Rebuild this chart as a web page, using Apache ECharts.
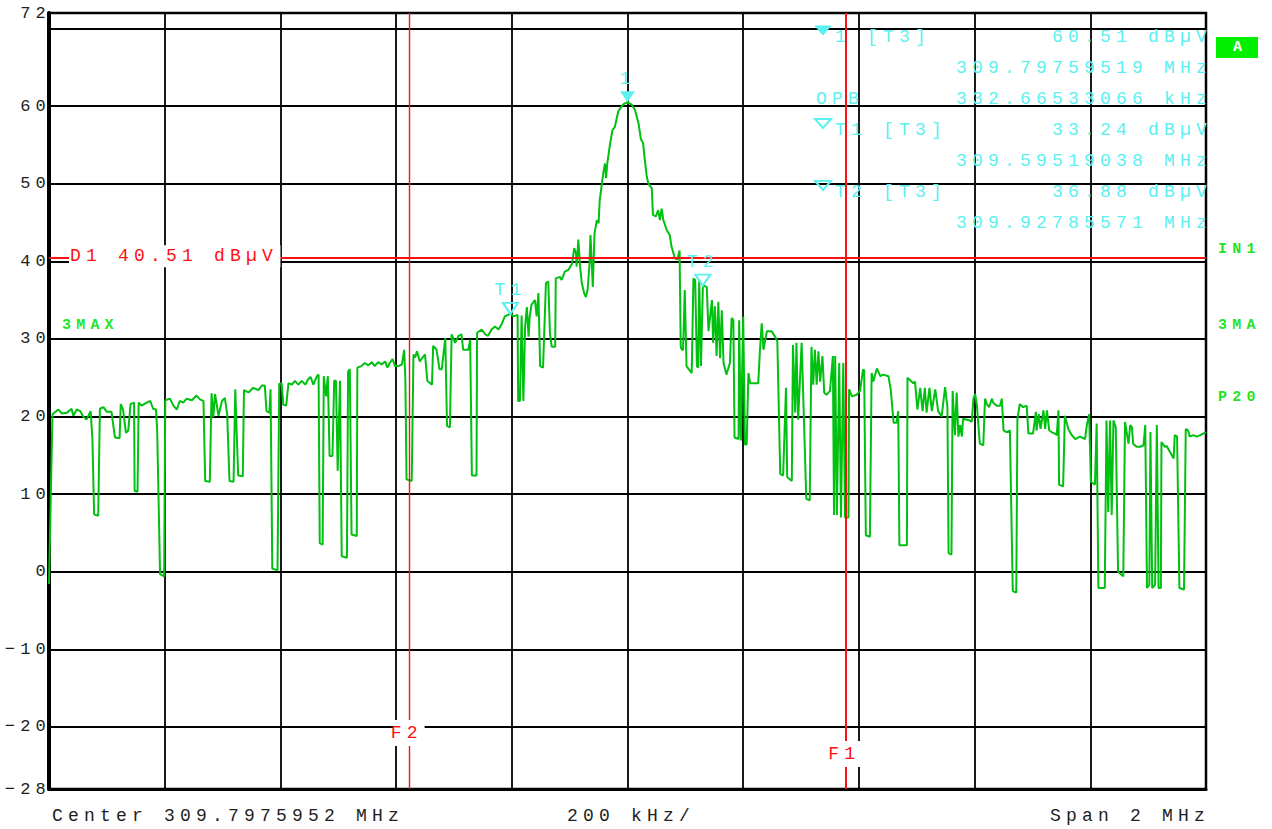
<!DOCTYPE html>
<html>
<head>
<meta charset="utf-8">
<title>Spectrum 309.7975952 MHz</title>
<script src="https://cdn.jsdelivr.net/npm/echarts@6/dist/echarts.min.js"></script>
<style>
  html, body { margin: 0; padding: 0; background: #ffffff; }
  #chart { width: 1272px; height: 829px; }
  /* instrument-style wide character pitch */
  #chart svg text { letter-spacing: 5.2px; }
</style>
</head>
<body>
<div id="chart"></div>
<script>
// ---- sweep settings ----
const centerMHz = 309.7975952;
const spanMHz = 2;
const divKHz = 200;

// ---- level axis ----
const yTickLabels = [72, 60, 50, 40, 30, 20, 10, 0, -10, -20, -28];
const gridLevels = [70, 60, 50, 40, 30, 20, 10, 0, -10, -20];

// ---- trace 3 (max hold): frequency offset from center (kHz) and level (dBµV) ----
const offsetKHz = [
  -1000,-994,-984,-978,-969,-961,-958,-952,-946,-941,-935,-928,-925,-922,-915,
  -912,-906,-900,-892,-886,-878,-876,-872,-867,-863,-859,-853,-852,-847,-845,
  -840,-831,-825,-820,-815,-813,-808,-801,-799,-791,-785,-779,-774,-768,-762,
  -753,-745,-739,-733,-730,-722,-719,-716,-713,-707,-701,-696,-692,-688,-681,
  -678,-676,-673,-665,-663,-655,-647,-638,-632,-627,-624,-619,-617,-614,-605,
  -602,-598,-595,-590,-586,-580,-575,-569,-563,-557,-552,-548,-543,-537,-534,
  -532,-527,-525,-521,-518,-515,-510,-507,-504,-501,-497,-494,-485,-483,-480,
  -477,-468,-467,-460,-454,-448,-442,-437,-431,-425,-419,-415,-411,-406,-402,
  -396,-390,-386,-384,-382,-373,-370,-367,-364,-359,-350,-346,-338,-336,-330,
  -325,-321,-315,-312,-307,-304,-298,-292,-287,-284,-275,-272,-269,-261,-260,
  -252,-246,-241,-235,-229,-223,-217,-212,-202.4,-197,-190,-189,-186,-183,-180,
  -177,-174,-171,-169,-166,-160,-157,-154,-151,-146,-141,-137,-134,-131,-125,
  -124,-117,-114,-108,-102,-96,-92,-89,-88,-85,-82,-79,-75,-72,-69,
  -66,-64,-60,-57,-53,-50,-48,-45,-42,-39,-37,-35,-30,-26,-22,
  -16,-10,-6,0,7,13,19,23,27,30,33,36,42,44,49,
  53,56,59,62,68,73,76,82,86,90,92,94,96,99,102,
  111,114,117,120,122,124,127,128,130.3,137,140,146,148,151,154,
  157,160,163,166,171,177,180,183,185,192,193,196,200,203,206,
  209,212,226,229,232,235,241,249,255,259,264,269,274,276,284,
  286,290,292,295,301,305,309,315,318,321,324,327,330,333,337,
  340,344,350,355,357,359,362,366,369,373,376,382,383,388,396,
  402,407,409,412,419,422,425,431,437,442,451,455,460,465,468,
  470,483,484,494,497,501,506,510,514,517,522,526,532,537,543,
  549,553,555,560,562,566,569,572,575,578,580,592,595,598,601,
  604,609,615,618,621,625,630,632,638,644,647,650,655,661,666,
  672,674,678,684,690,693,701,706,707,711,714,719,722,725,729,
  733,739,742,745,746,753,756,762,768,774,782,791,794,798,801,
  808,811,814,825,828,831,834,837,840,844,848,857,860,866,869,
  872,874,880,886,892,895,898,902,904,907,912,915,918,922,923,
  929,932,938,944,946,950,954,962,965,969,972,978,984,990,995,
  1000
];
const levels = [
  -1.6,20.3,20.9,20.4,20.5,21.0,20.1,20.9,20.7,20.0,19.6,20.7,17.1,7.4,7.2,
  21.0,21.2,20.6,20.6,17.3,17.2,21.6,20.9,17.9,18.2,21.6,21.8,10.4,10.3,21.8,
  21.4,21.8,22.0,21.0,20.9,18.2,-0.3,-0.6,22.1,22.3,21.4,20.9,22.0,21.8,22.3,
  22.1,22.7,22.2,22.0,11.7,11.6,23.0,19.9,22.9,20.1,22.0,22.4,20.3,11.7,11.6,
  23.5,19.0,12.4,12.3,23.4,23.1,23.7,23.4,24.0,24.0,20.7,20.5,23.5,0.4,0.2,
  24.2,24.3,21.5,21.4,24.3,24.1,24.6,24.1,24.6,24.1,24.8,25.1,24.1,25.2,25.4,
  3.7,3.5,25.2,22.6,25.2,14.9,14.9,24.6,24.6,13.0,24.6,2.0,1.8,25.8,26.1,
  4.8,4.6,26.3,26.5,26.9,26.6,27.0,26.5,27.0,26.7,27.1,26.3,26.9,27.4,26.5,
  26.5,26.7,28.6,24.8,11.9,11.7,28.0,27.6,28.4,27.1,28.0,24.6,24.1,29.1,28.6,
  26.1,26.1,30.1,18.8,18.6,30.6,29.5,30.4,30.6,28.6,28.6,29.9,12.4,12.4,30.8,
  31.2,30.6,30.4,31.2,31.6,31.2,32.0,32.9,33.24,32.9,33.1,22.0,22.0,33.0,22.0,
  31.6,34.1,30.3,32.9,34.4,35.0,32.9,35.9,26.5,26.3,37.2,37.4,30.7,29.0,29.0,
  37.8,38.0,37.6,38.7,38.9,39.7,41.7,41.0,39.3,42.8,39.3,37.2,35.9,35.4,36.3,
  39.3,43.4,36.7,43.6,45.3,44.9,47.9,49.6,51.3,52.6,50.7,52.6,55.2,56.9,57.3,
  59.3,60.0,60.3,60.51,60.2,59.5,57.8,55.8,55.2,53.0,51.1,50.0,49.4,46.0,45.8,
  46.6,45.3,46.8,45.3,44.0,43.4,41.9,40.4,40.2,41.4,29.0,28.6,28.6,36.3,26.5,
  25.6,37.8,37.6,26.5,26.3,37.6,26.5,26.5,36.88,36.7,31.0,35.0,29.5,34.2,27.8,
  34.8,27.5,33.7,26.9,25.4,26.9,32.7,32.4,17.3,17.1,32.4,16.9,32.9,16.4,16.4,
  25.6,24.3,24.3,28.6,32.0,28.6,31.0,31.0,30.3,29.7,12.6,12.4,23.7,12.2,11.7,
  29.2,20.5,29.5,19.6,29.5,19.6,9.4,9.2,29.0,24.1,28.6,24.1,28.4,24.5,27.8,
  23.1,22.8,23.3,27.8,7.3,27.8,7.3,26.9,7.0,26.9,7.0,7.0,23.5,22.6,22.8,
  23.3,26.0,26.0,4.7,4.5,25.6,24.5,26.2,25.2,25.4,25.2,23.5,19.2,19.2,20.7,
  3.4,3.4,25.0,24.3,24.5,20.9,23.7,20.7,23.7,20.5,23.7,20.7,23.5,20.7,20.0,
  23.8,21.2,2.4,2.2,23.3,17.6,23.1,17.4,18.9,17.4,19.7,19.5,19.3,22.3,22.9,
  21.4,16.5,16.3,22.3,21.6,21.2,22.3,21.8,21.4,21.4,22.3,18.2,18.0,18.2,-2.5,
  -2.7,19.7,21.6,21.2,21.4,17.8,17.8,20.6,18.2,20.3,18.4,20.8,18.4,20.8,18.2,
  18.0,17.8,17.6,20.8,11.2,11.0,20.1,18.4,17.6,17.1,17.4,17.1,18.9,20.3,11.6,
  11.2,19.1,-2.1,-2.1,19.5,7.7,19.5,7.3,19.5,18.6,0.0,-0.6,19.3,16.5,18.9,
  18.6,16.5,16.1,16.1,16.3,18.9,-2.1,-1.7,18.0,-2.1,-1.7,18.9,-2.1,-2.1,16.7,
  16.1,16.2,15.4,14.6,17.6,17.4,-2.1,-2.3,18.4,18.2,17.4,17.6,17.4,17.6,17.8,
  18.0
];

// ---- markers ----
const markerNames = ['1', 'T1', 'T2'];
const markerFreqMHz = [309.79759519, 309.59519038, 309.92785571];
const markerLevels = [60.51, 33.24, 36.88];
const obwKHz = 332.66533066;

// ---- display line and frequency lines ----
const displayLineLevel = 40.51;
const freqLineNames = ['F1', 'F2'];
const freqLineKHz = [378, -378];

// ---- side annotations ----
const sideLabels = ['IN1', '3MA', 'P20'];

// ---- styling ----
const FONT_FAMILY = "'Liberation Mono', 'Courier New', monospace";
const CYAN = '#5cf0f0';
const RED = '#ff1010';
const TRACE_GREEN = '#00c010';
const TAG_GREEN = '#1fe61f';
const INK = '#1e1e1e';

const fmtLevel = v => String(v).replace('-', '\u2212');
const markerOffsetKHz = markerFreqMHz.map(f => (f - centerMHz) * 1000);

const chart = echarts.init(document.getElementById('chart'), null, {
  renderer: 'svg', width: 1272, height: 829
});

chart.setOption({
  animation: false,
  backgroundColor: '#ffffff',
  grid: {
    left: 49, right: 66, top: 13, bottom: 40,
    show: true, borderColor: '#000', borderWidth: 2.5
  },
  xAxis: {
    type: 'value',
    min: -spanMHz * 500, max: spanMHz * 500, interval: divKHz,
    axisLine: { onZero: false, lineStyle: { color: '#000', width: 3 } },
    axisTick: { show: false },
    axisLabel: { show: false },
    splitLine: { show: true, lineStyle: { color: '#000', width: 1.8 } }
  },
  yAxis: {
    type: 'value', min: -28, max: 72,
    axisLine: { show: true, onZero: false, lineStyle: { color: '#000', width: 4 } },
    axisTick: { show: false, customValues: gridLevels },
    axisLabel: {
      customValues: yTickLabels,
      margin: -2,
      color: INK,
      fontFamily: FONT_FAMILY,
      fontSize: 17,
      formatter: fmtLevel
    },
    splitLine: { show: true, lineStyle: { color: '#000', width: 1.8 } }
  },
  series: [{
    name: '3MAX',
    type: 'line',
    data: offsetKHz.map((f, i) => [f, levels[i]]),
    symbol: 'none',
    lineStyle: { color: TRACE_GREEN, width: 2 },
    z: 3,
    markLine: {
      silent: true,
      symbol: 'none',
      label: { show: false },
      data: [
        { yAxis: displayLineLevel, lineStyle: { color: RED, width: 2, type: 'solid' } },
        { xAxis: freqLineKHz[0], lineStyle: { color: RED, width: 2, type: 'solid' } },
        { xAxis: freqLineKHz[1], lineStyle: { color: RED, width: 1.4, type: 'solid' } }
      ]
    },
    markPoint: {
      silent: true,
      data: markerNames.map((n, i) => ({
        coord: [markerOffsetKHz[i], markerLevels[i]],
        symbol: 'triangle',
        symbolRotate: 180,
        symbolSize: [15, 11],
        symbolOffset: [0, -5.5],
        itemStyle: i === 0
          ? { color: CYAN }
          : { color: 'rgba(255,255,255,0)', borderColor: CYAN, borderWidth: 2 },
        label: {
          show: true, position: 'top', distance: 3, formatter: n,
          color: CYAN, fontFamily: FONT_FAMILY, fontSize: 18
        }
      }))
    }
  }]
});

// ---- text annotations around the grid ----
const font = (size, bold) => (bold ? 'bold ' : '') + size + 'px ' + FONT_FAMILY;
const txt = (text, x, y, fill, f, align, extra) => ({
  type: 'text', x: x, y: y, silent: true, z: 20,
  style: Object.assign({ text: text, fill: fill, font: f, align: align || 'left', verticalAlign: 'middle' }, extra || {})
});

const graphics = [];

// footer
graphics.push(txt('Center ' + centerMHz.toFixed(7) + ' MHz', 52, 816, INK, font(18)));
graphics.push(txt(divKHz + ' kHz/', 567, 816, INK, font(18)));
graphics.push(txt('Span ' + spanMHz + ' MHz', 1210, 816, INK, font(18), 'right'));

// marker table (top right)
const rowY = [37, 68, 99, 130, 161, 192, 223];
const tableRows = [];
markerNames.forEach((n, i) => {
  tableRows.push({ tag: n + ' [T3]', value: markerLevels[i].toFixed(2) + ' dB\u00b5V', sym: i === 0 ? 'filled' : 'hollow' });
  tableRows.push({ value: markerFreqMHz[i].toFixed(8) + ' MHz' });
  if (i === 0) tableRows.push({ tag: 'OPB', tagX: 816, value: obwKHz.toFixed(8) + ' kHz' });
});
tableRows.forEach((r, k) => {
  const y = rowY[k];
  if (r.tag) graphics.push(txt(r.tag, r.tagX || 835, y, CYAN, font(18)));
  graphics.push(txt(r.value, 1212, y, CYAN, font(18), 'right'));
  if (r.sym) {
    graphics.push({
      type: 'polygon', silent: true, z: 20,
      shape: { points: [[815, y - 11], [831, y - 11], [823, y - 2]] },
      style: r.sym === 'filled'
        ? { fill: CYAN, stroke: CYAN, lineWidth: 1 }
        : { fill: 'none', stroke: CYAN, lineWidth: 2 }
    });
  }
});

// right margin tags
graphics.push({
  type: 'rect', silent: true, z: 20,
  shape: { x: 1216, y: 37, width: 42, height: 21 },
  style: { fill: '#00f000' }
});
graphics.push(txt('A', 1240, 47.5, '#ffffff', font(15, true), 'center'));
[249, 325, 397].forEach((y, i) => graphics.push(txt(sideLabels[i], 1218, y, TAG_GREEN, font(15, true))));
graphics.push(txt('3MAX', 62, 325, TAG_GREEN, font(15, true)));

// display line label
const d1Y = chart.convertToPixel({ yAxisIndex: 0 }, displayLineLevel);
graphics.push(txt('D1 ' + displayLineLevel.toFixed(2) + ' dB\u00b5V', 69, d1Y - 1, RED, font(18), 'left',
  { backgroundColor: '#ffffff', padding: [2, 70, 2, 1] }));

// frequency line labels
const fLabelY = [754, 733];
freqLineNames.forEach((n, i) => {
  const x = chart.convertToPixel({ xAxisIndex: 0 }, freqLineKHz[i]);
  graphics.push(txt(n, x, fLabelY[i], RED, font(18), 'center',
    { backgroundColor: '#ffffff', padding: [4, 7, 4, 3] }));
});

chart.setOption({ graphic: graphics });
</script>
</body>
</html>
